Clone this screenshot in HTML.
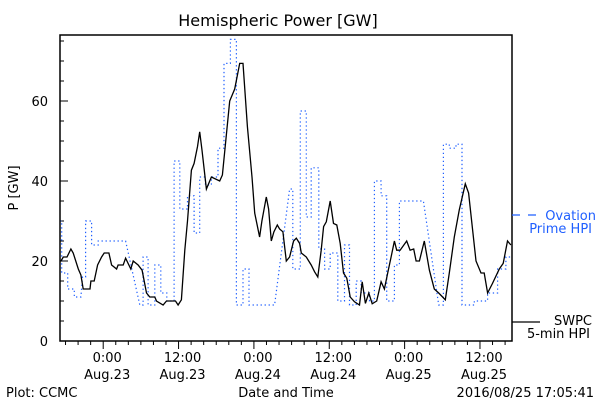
<!DOCTYPE html>
<html><head><meta charset="utf-8"><style>
body{margin:0;background:#fff;}
svg{display:block;font-family:"DejaVu Sans","Liberation Sans",sans-serif;font-size:13px;}
</style></head><body>
<svg id="chart" width="600" height="400">
<rect width="600" height="400" fill="#fff"/>
<text x="278" y="26" text-anchor="middle" font-size="16">Hemispheric Power [GW]</text>
<text transform="translate(18,188) rotate(-90)" text-anchor="middle">P [GW]</text>
<text x="286" y="397" text-anchor="middle">Date and Time</text>
<text x="6" y="397">Plot: CCMC</text>
<text x="594" y="397" text-anchor="end">2016/08/25 17:05:41</text>
<g id="axes"></g>
<g id="series"></g>
<rect x="60" y="35" width="452" height="306" fill="none" stroke="#000" stroke-width="1.5"/>
<g>
<line x1="512" y1="215" x2="538" y2="215" stroke="#1f5fff" stroke-width="1.3" stroke-dasharray="8,8"/>
<text x="596" y="220" text-anchor="end" fill="#1f5fff">Ovation</text>
<text x="592" y="233" text-anchor="end" fill="#1f5fff">Prime HPI</text>
</g>
<g>
<line x1="512" y1="322" x2="540" y2="322" stroke="#000" stroke-width="1.3"/>
<text x="592" y="325" text-anchor="end">SWPC</text>
<text x="590" y="338" text-anchor="end">5-min HPI</text>
</g>
</svg>
<script>
// hours relative to Aug.23 0:00
const swpcTime=[-6.88,-6.72,-6.36,-5.77,-5.14,-4.77,-3.97,-3.55,-3.18,-2.11,-1.96,-1.43,-0.89,-0.25,0.16,0.91,1.34,2.13,2.38,3.18,3.56,4.40,4.77,5.56,6.20,6.90,7.42,8.22,8.49,9.54,10.08,11.51,11.92,12.46,12.99,13.42,14.05,14.47,15.01,15.37,15.74,16.44,17.23,18.55,18.98,20.14,20.94,21.73,22.26,22.96,23.69,24.12,24.91,25.28,25.98,26.34,26.77,27.19,27.73,28.09,28.62,29.16,29.68,30.32,30.75,31.27,31.54,32.34,33.13,33.66,34.18,34.72,35.09,35.52,36.15,36.68,37.20,37.74,38.27,38.79,39.33,40.02,40.81,41.24,41.76,42.29,42.83,43.56,44.26,44.78,45.31,45.85,46.38,46.74,47.28,48.33,48.87,49.44,49.83,50.35,51.14,51.94,52.73,53.42,54.05,54.48,55.12,55.91,56.71,57.66,58.19,58.82,59.36,60.16,60.68,61.21,62.00,63.07,63.70,64.39,64.93];
const swpcVal=[20,20,21,21,23,22,18,16.5,13,13,15,15,19,21,22,22,19,18,19,19,20.7,18,20,19,17.7,12,11,11,10,9,10,10,9,10.3,22.7,30,42.7,44.4,48.6,52.3,47.7,38,41,40,41.5,60,63,69.4,69.4,53.6,41,32,26,30,36,33,25,27.3,29,28,27.3,20,21,25,25.7,24.4,22,21,19,17.3,16,22.7,28.6,29.8,35,29.4,29,24.4,17,15.7,11,9.8,9,14.8,9.4,12,9.3,10,14.8,13,17,21,25,22.7,22.7,25,22.7,23,20,20,25,17.7,13,12,11,10.3,17,26,32.8,39.3,37,27.8,20,17,17,12,14.4,18,19.4,25,24];
const ovTime=[-6.88,-6.61,-6.61,-5.66,-5.66,-4.61,-4.61,-3.55,-3.3,-2.80,-2.80,-1.84,-1.84,-0.79,-0.79,3.56,5.83,6.36,6.36,7.15,7.15,8.22,8.22,9.17,9.17,10.13,10.13,11.29,11.29,12.19,12.19,13.42,13.42,14.47,14.47,15.37,15.37,16.28,16.28,17.23,17.23,18.28,18.28,19.24,19.24,20.25,20.25,21.21,21.21,22.26,22.26,23.21,23.21,27.30,29.68,30.2,30.2,31.38,31.38,32.34,32.34,33.13,33.13,34.34,34.34,35.25,35.25,36.15,36.15,37.36,37.36,38.43,38.43,39.22,39.22,40.29,40.29,41.08,41.08,42.40,42.40,43.19,43.19,44.26,44.26,45.15,45.15,46.38,46.38,47.17,47.17,50.99,53.42,54.17,54.17,55.12,55.12,56.18,56.18,57.14,57.14,59.09,59.09,61.21,61.21,62.80,62.80,64.13,64.13,65.1];
const ovVal=[30,30,17,17,13,13,11,11,16,16,30,30,24,24,25,25,9,9,21,21,9,9,19,19,12,12,10,10,45,45,33,33,36.3,36.3,27,27,41,41,39,39,41,41,48.2,48.2,69.4,69.4,75.4,75.4,9,9,18,18,9,9,38,38,18,18,57.5,57.5,31,31,43.3,43.3,23,23,18,18,22,22,10,10,24,24,9,9,15,15,12,12,10,10,40,40,36.3,36.3,10,10,19,19,35,35,9,9,49.2,49.2,48.2,48.2,49.2,49.2,9,9,10,10,12,12,18,18,21,21];
const yTicks=[0,20,40,60];
const xMajor=[0,12,24,36,48,60];
const xLabel1=["0:00","12:00","0:00","12:00","0:00","12:00"];
const xLabel2=["Aug.23","Aug.23","Aug.24","Aug.24","Aug.25","Aug.25"];

const X0=60,X1=512,Y0=341,Y1=35,H0=-6.88,H1=65.1,V0=0,V1=76.5;
const xs=h=>X0+(h-H0)/(H1-H0)*(X1-X0);
const ys=v=>Y0-(v-V0)/(V1-V0)*(Y0-Y1);
const NS="http://www.w3.org/2000/svg";
const axes=document.getElementById('axes'),ser=document.getElementById('series');
function mk(tag,attrs,parent){const e=document.createElementNS(NS,tag);for(const k in attrs)e.setAttribute(k,attrs[k]);parent.appendChild(e);return e;}
for(let v=0;v<=V1;v+=5){
  const t=mk('line',{x1:X0,x2:X0+(v%20===0?8:4),y1:ys(v),y2:ys(v),stroke:'#000'},axes);
  
  
}
yTicks.forEach(v=>{
  const t=mk('text',{x:X0-12,y:ys(v)+5,'text-anchor':'end'},axes);t.textContent=v;
  
  
});
for(let h=-6;h<=H1;h+=2){
  const maj=((h%12)+12)%12===0;
  const t=mk('line',{x1:xs(h),x2:xs(h),y1:Y0,y2:Y0+(maj?8:4),stroke:'#000'},axes);
  
  
}
xMajor.forEach((h,i)=>{
  const a=mk('text',{x:xs(h)+4,y:362,'text-anchor':'middle'},axes);a.textContent=xLabel1[i];
  
  
  const b=mk('text',{x:xs(h)+4,y:379,'text-anchor':'middle'},axes);b.textContent=xLabel2[i];
  
  
});
const ovPts=ovTime.map((h,i)=>xs(h).toFixed(1)+','+ys(ovVal[i]).toFixed(1)).join(' ');
const ov=mk('polyline',{points:ovPts,fill:'none',stroke:'#1f5fff','stroke-width':1.2,'stroke-dasharray':'1.3,2.7'},ser);


const swPts=swpcTime.map((h,i)=>xs(h).toFixed(1)+','+ys(swpcVal[i]).toFixed(1)).join(' ');
const sw=mk('polyline',{points:swPts,fill:'none',stroke:'#000','stroke-width':1.3},ser);


</script>
</body></html>
